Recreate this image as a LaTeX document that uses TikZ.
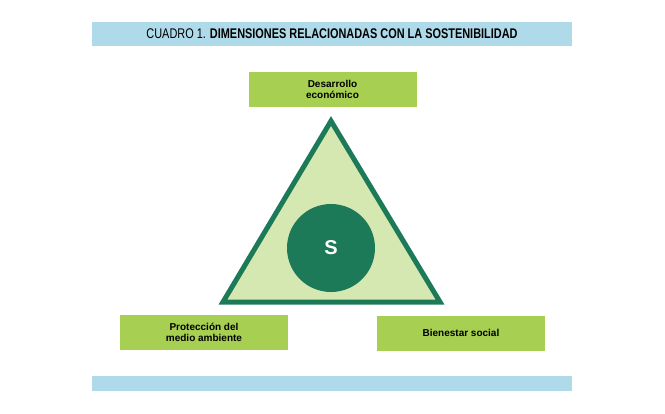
\documentclass[tikz,border=0pt]{standalone}
\usepackage{fontspec}
\setmainfont{Liberation Sans}
\definecolor{barblue}{RGB}{174,218,234}
\definecolor{boxgreen}{RGB}{167,207,82}
\definecolor{darkgreen}{RGB}{29,122,88}
\definecolor{palegreen}{RGB}{214,232,178}
\tikzset{gbox/.style={fill=boxgreen,minimum width=168pt,minimum height=35pt,align=center,font=\bfseries\fontsize{10}{11}\selectfont,inner sep=0pt}}
\begin{document}
\begin{tikzpicture}[x=1pt,y=-1pt]
\useasboundingbox (0,0) rectangle (665,413);
\fill[barblue] (92,22) rectangle (572,46);
\node (title) at (332,34) {\scalebox{0.78}[1]{\fontsize{14}{16}\selectfont CUADRO 1. \textbf{DIMENSIONES RELACIONADAS CON LA SOSTENIBILIDAD}}};
\fill[barblue] (92,376) rectangle (572,391);
\draw[darkgreen,fill=palegreen,line width=5pt,line join=miter] (331,121) -- (440,302) -- (223,302) -- cycle;
\node[circle,fill=darkgreen,minimum size=88pt,text=white,font=\bfseries\fontsize{20}{22}\selectfont] (s) at (331,248) {S};
\node[gbox] (eco) at (332.5,89.5) {Desarrollo\\económico};
\node[gbox] (amb) at (204,332.5) {Protección del\\medio ambiente};
\node[gbox] (soc) at (461,333) {Bienestar social};
\end{tikzpicture}
\end{document}
